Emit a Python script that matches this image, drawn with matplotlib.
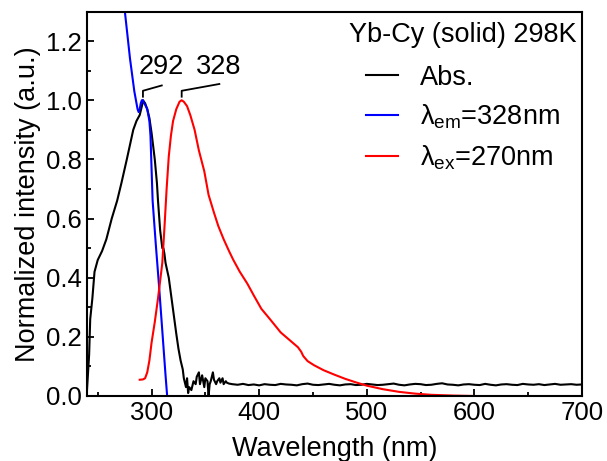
import matplotlib
matplotlib.use('Agg')
import matplotlib.pyplot as plt

# absorption (black)
abs_x = [240, 242, 243, 245, 247, 250, 254, 258, 263, 268, 272, 277, 280, 283, 286,
         289, 291, 292, 294, 296, 298, 300, 303, 305, 306, 308, 310, 311, 312, 313,
         316, 320, 323, 325, 327, 329, 330, 332, 333, 334, 335, 337, 339, 341, 342,
         344, 345, 347, 349, 350, 352, 353, 354, 355, 357, 358, 360, 361, 363, 364,
         366, 367, 369, 370, 372, 375,
         380, 385, 390, 395, 400, 405, 410, 415, 420, 425, 430, 435, 440, 445, 450,
         455, 460, 465, 470, 475, 480, 485, 490, 495, 500, 505, 510, 515, 520, 525,
         530, 535, 540, 545, 550, 555, 560, 565, 570, 575, 580, 585, 590, 595, 600,
         605, 610, 615, 620, 625, 630, 635, 640, 645, 650, 655, 660, 665, 670, 675,
         680, 685, 690, 695, 700]
abs_y = [0.02, 0.14, 0.26, 0.33, 0.42, 0.46, 0.49, 0.53, 0.60, 0.66, 0.72, 0.80, 0.85, 0.90, 0.93,
         0.95, 0.98, 1.00, 0.99, 0.97, 0.94, 0.89, 0.80, 0.72, 0.66, 0.56, 0.50, 0.50, 0.48, 0.45,
         0.40, 0.29, 0.21, 0.16, 0.12, 0.09, 0.06, 0.03, 0.06, 0.01, 0.03, 0.02, 0.05, 0.04, 0.065,
         0.08, 0.04, 0.07, 0.03, 0.06, 0.05, 0.00, 0.04, 0.05, 0.08, 0.055, 0.04, 0.05, 0.06, 0.045,
         0.06, 0.04, 0.05, 0.045, 0.042, 0.040,
         0.038, 0.041, 0.037, 0.039, 0.036, 0.040, 0.038, 0.037, 0.041, 0.039, 0.038, 0.036, 0.040, 0.042, 0.038,
         0.037, 0.039, 0.041, 0.038, 0.036, 0.039, 0.040, 0.037, 0.038, 0.041, 0.039, 0.037, 0.038, 0.040, 0.042,
         0.038, 0.036, 0.039, 0.041, 0.040, 0.037, 0.038, 0.041, 0.043, 0.039, 0.038, 0.036, 0.039, 0.040, 0.038,
         0.037, 0.041, 0.038, 0.036, 0.039, 0.040, 0.038, 0.037, 0.041, 0.039, 0.038, 0.040, 0.037, 0.039, 0.041,
         0.038, 0.039, 0.040, 0.038, 0.039]

# excitation, lambda_em = 328 nm (blue)
exc_x = [274, 277, 280, 284, 287, 288, 289, 290, 291, 292, 293, 294, 296, 298, 299,
         301, 304, 307, 310, 313, 314.5]
exc_y = [1.34, 1.24, 1.14, 1.03, 0.97, 0.96, 0.97, 0.99, 1.00, 1.00, 0.99, 0.985, 0.97, 0.93, 0.88,
         0.66, 0.51, 0.37, 0.22, 0.07, 0.00]

# emission, lambda_ex = 270 nm (red)
em_x = [289, 292, 294, 296, 298, 300, 303, 306, 310, 312, 314, 316, 318, 320, 323,
        326, 328, 330, 333, 336, 340, 344, 349, 353, 358, 362, 367, 372, 376, 382,
        389, 395, 402, 410, 420, 428, 436, 439, 441, 445, 451, 460, 470, 480, 490,
        500, 515, 530, 545, 560, 580, 600]
em_y = [0.055, 0.056, 0.06, 0.08, 0.12, 0.18, 0.25, 0.33, 0.45, 0.57, 0.70, 0.81, 0.88, 0.93, 0.97,
        0.995, 1.00, 0.995, 0.98, 0.95, 0.90, 0.83, 0.76, 0.68, 0.62, 0.575, 0.53, 0.49, 0.46, 0.42,
        0.38, 0.34, 0.295, 0.26, 0.215, 0.19, 0.165, 0.15, 0.135, 0.118, 0.104, 0.087, 0.072, 0.058, 0.046,
        0.035, 0.023, 0.014, 0.008, 0.004, 0.0015, 0.0]

labels = ['Abs.', r'$\mathregular{\lambda_{em}}$=328nm', r'$\mathregular{\lambda_{ex}}$=270nm']
colors = ['black', 'blue', 'red']
peak_labels = ['292', '328']


def main():
    plt.rcParams['font.family'] = ['Liberation Sans', 'DejaVu Sans']
    plt.rcParams['mathtext.fontset'] = 'custom'
    plt.rcParams['mathtext.rm'] = 'Liberation Sans'

    fig = plt.figure(figsize=(6.07, 4.61), dpi=100)
    ax = fig.add_axes([0.1433, 0.141, 0.8155, 0.834])

    ax.plot(abs_x, abs_y, color=colors[0], lw=1.5, label=labels[0])
    ax.plot(exc_x, exc_y, color=colors[1], lw=1.5, label=labels[1])
    ax.plot(em_x, em_y, color=colors[2], lw=1.5, label=labels[2])

    ax.set_xlim(240, 700)
    ax.set_ylim(0, 1.3)
    ax.set_xticks([300, 400, 500, 600, 700])
    ax.set_xticks([250, 350, 450, 550, 650], minor=True)
    ax.set_yticks([0.0, 0.2, 0.4, 0.6, 0.8, 1.0, 1.2])
    ax.set_yticks([0.1, 0.3, 0.5, 0.7, 0.9, 1.1], minor=True)
    ax.set_yticklabels(['0.0', '0.2', '0.4', '0.6', '0.8', '1.0', '1.2'])
    ax.tick_params(which='both', direction='in', width=1.3, labelsize=18.5)
    ax.tick_params(which='major', length=5)
    ax.tick_params(which='minor', length=3)
    for s in ax.spines.values():
        s.set_linewidth(1.5)

    ax.set_xlabel('Wavelength (nm)', fontsize=19.5, labelpad=8)
    ax.set_ylabel('Normalized intensity (a.u.)', fontsize=19.5, labelpad=4)

    # peak annotations with leader lines
    ax.plot([292, 292, 309.5], [1.012, 1.032, 1.05], color='black', lw=1.3)
    ax.plot([328, 328, 363], [1.012, 1.032, 1.055], color='black', lw=1.3)
    ax.text(309, 1.114, peak_labels[0], fontsize=19.5, ha='center', va='center')
    ax.text(362, 1.114, peak_labels[1], fontsize=19.5, ha='center', va='center')

    leg = ax.legend(loc='upper right', frameon=False, fontsize=19.5,
                    title='Yb-Cy (solid) 298K', title_fontsize=19.5,
                    handlelength=1.2, handletextpad=0.8, labelspacing=0.45,
                    borderaxespad=0.15, bbox_to_anchor=(1.019, 1.0))
    leg.get_title().set_position((0, 4))
    fig.savefig('out.png', dpi=100)
    plt.close(fig)


if __name__ == "__main__":
    main()
